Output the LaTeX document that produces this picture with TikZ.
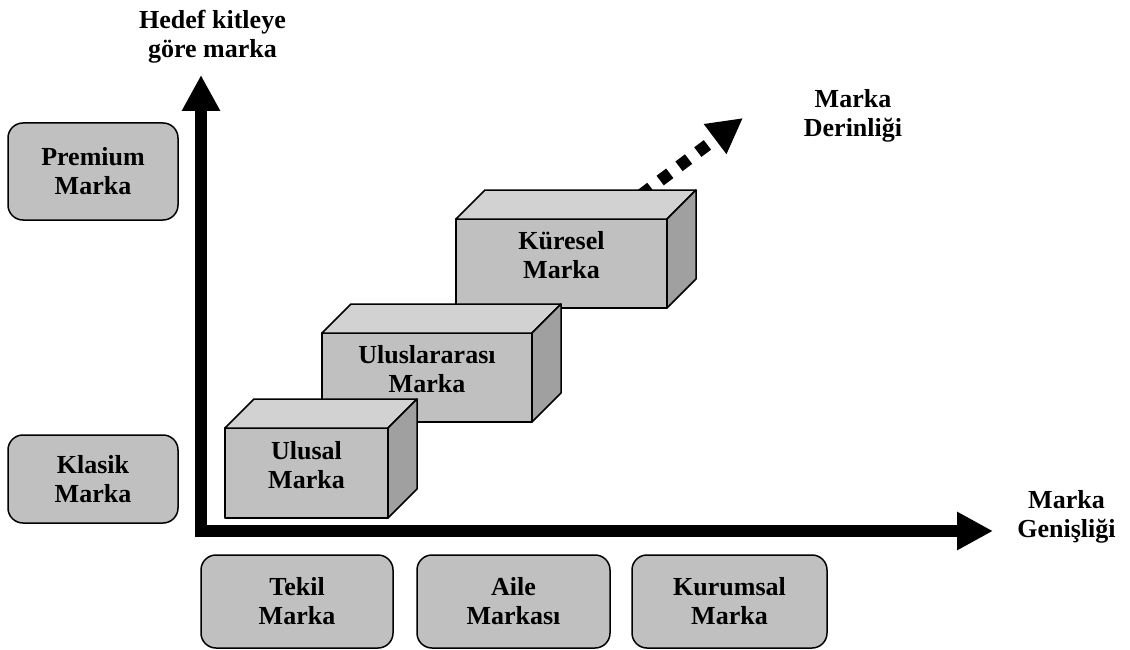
\documentclass[tikz,border=0pt]{standalone}
\usepackage{fontspec}
\setmainfont{Liberation Serif}
\usetikzlibrary{arrows.meta}

\definecolor{boxgray}{HTML}{C0C0C0}
\definecolor{topgray}{HTML}{D2D2D2}
\definecolor{sidegray}{HTML}{A0A0A0}

% 3D block: #1 name, #2/#3 centre of the front face, #4 width, #5 height, #6 text
\newcommand{\markacube}[6]{%
  \node[cubefront, minimum width=#4pt, minimum height=#5pt] (#1) at (#2,#3) {};
  \filldraw[cubetop] (#1.north west) -- ++(29,-29) -- ++(#4,0) -- (#1.north east) -- cycle;
  \filldraw[cubeside] (#1.north east) -- ++(29,-29) -- ++(0,#5) -- (#1.south east) -- cycle;
  \node[txt] (#1-text) at ([yshift=8pt]#1.center) {#6};
}

\begin{document}
\begin{tikzpicture}[x=1pt, y=-1pt,
  txt/.style={font=\bfseries\fontsize{26}{29}\selectfont, align=center, inner sep=0pt},
  rbox/.style={txt, draw=black, line width=1.5pt, fill=boxgray, rounded corners=15pt},
  cubefront/.style={draw=black, line width=1.5pt, fill=boxgray, inner sep=0pt, outer sep=0pt, line join=round},
  cubetop/.style={draw=black, line width=1.5pt, fill=topgray, line join=round},
  cubeside/.style={draw=black, line width=1.5pt, fill=sidegray, line join=round},
  axis/.style={line width=12pt, line join=miter,
    {Triangle[width=36pt,length=36pt]}-{Triangle[width=36pt,length=36pt]}},
  depthdots/.style={line width=12pt, dash pattern=on 12pt off 11.6pt,
    -{Triangle[width=35pt,length=35pt]}}
]
\useasboundingbox (0,0) rectangle (1130,650);

% target-audience brands (vertical scale)
\node[rbox, minimum width=170pt, minimum height=97pt] (premium) at (93,171.5) {Premium\\Marka};
\node[rbox, minimum width=170pt, minimum height=88pt] (klasik) at (93,479) {Klasik\\Marka};

% brand-width categories (horizontal scale)
\node[rbox, minimum width=192pt, minimum height=93pt] (tekil) at (297,601.5) {Tekil\\Marka};
\node[rbox, minimum width=193pt, minimum height=93pt] (aile) at (513.5,601.5) {Aile\\Markası};
\node[rbox, minimum width=195pt, minimum height=93pt] (kurumsal) at (729.5,601.5) {Kurumsal\\Marka};

% axes
\coordinate (origin) at (201,531);
\coordinate (ytip) at (201,75);
\coordinate (xtip) at (993,531);
\draw[axis] (ytip) -- (origin) -- (xtip);

\node[txt] (ylabel) at (212.5,36.7) {Hedef kitleye\\göre marka};
\node[txt] (xlabel) at (1066.5,516.5) {Marka\\Genişliği};

% brand depth direction
\coordinate (dstart) at (622.5,209);
\coordinate (dtip) at (743,118);
\draw[depthdots] (dstart) -- (dtip);
\node[txt] (dlabel) at (853,116) {Marka\\Derinliği};

% stepped blocks, back to front
\markacube{kuresel}{561.5}{263.5}{211}{89}{Küresel\\Marka}
\markacube{uluslararasi}{427}{377.5}{210}{89}{Uluslararası\\Marka}
\markacube{ulusal}{306.5}{473}{163}{90}{Ulusal\\Marka}

\end{tikzpicture}
\end{document}
